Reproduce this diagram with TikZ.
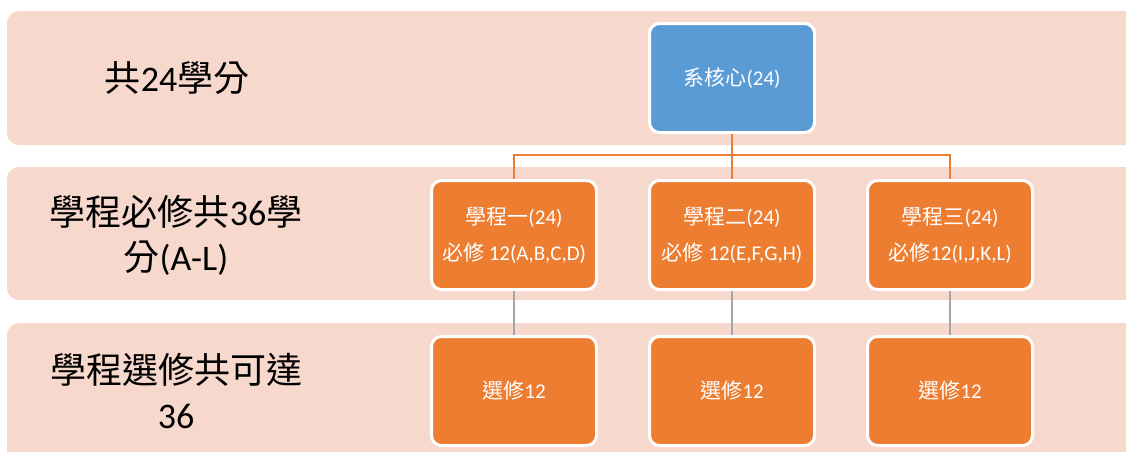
\documentclass[tikz,border=0pt]{standalone}
\usepackage{fontspec}
\setmainfont{Carlito}
\newfontfamily\cjk{Noto Sans CJK TC}
\definecolor{bandc}{HTML}{F7D8CD}
\definecolor{bluec}{HTML}{5B9BD5}
\definecolor{orangec}{HTML}{ED7D31}
\definecolor{grayc}{HTML}{A5A5A5}
\tikzset{
  bandshape/.style={fill=bandc, rounded corners=12pt},
  rowlabel/.style={text=black, align=center, font=\fontsize{36}{45}\selectfont},
  boxbase/.style={draw=white, line width=3pt, rounded corners=10pt, minimum width=165pt, minimum height=109pt, text=white, align=center, font=\fontsize{21}{36}\selectfont, inner sep=0pt},
  corebox/.style={boxbase, fill=bluec},
  progbox/.style={boxbase, fill=orangec},
  orangeline/.style={draw=orangec, line width=2pt},
  grayline/.style={draw=grayc, line width=2pt}
}
\begin{document}
\begin{tikzpicture}[x=1pt,y=-1pt]
\useasboundingbox (0,0) rectangle (1126,451);
\clip (0,0) rectangle (1126,451);
\fill[bandshape] (7,11) rectangle (1160,145);
\fill[bandshape] (7,167) rectangle (1160,300);
\fill[bandshape] (7,323) rectangle (1160,480);

\node[rowlabel] (l1) at (177,78) {{\cjk 共}24{\cjk 學分}};
\node[rowlabel] (l2) at (176,235) {{\cjk 學程必修共}36{\cjk 學}\\{\cjk 分}(A-L)};
\node[rowlabel] (l3) at (176,391) {{\cjk 學程選修共可達}\\36};

\node[corebox] (core) at (732,78) {{\cjk 系核心}(24)};
\node[progbox] (p1) at (514,235) {{\cjk 學程一}(24)\\{\cjk 必修} 12(A,B,C,D)};
\node[progbox] (p2) at (732,235) {{\cjk 學程二}(24)\\{\cjk 必修} 12(E,F,G,H)};
\node[progbox] (p3) at (950,235) {{\cjk 學程三}(24)\\{\cjk 必修}12(I,J,K,L)};
\node[progbox] (e1) at (514,391) {{\cjk 選修}12};
\node[progbox] (e2) at (732,391) {{\cjk 選修}12};
\node[progbox] (e3) at (950,391) {{\cjk 選修}12};

\coordinate (hub) at (732,155);
\draw[orangeline] (core.south) -- (hub);
\draw[orangeline] (hub) -| (p1.north);
\draw[orangeline] (hub) -- (p2.north);
\draw[orangeline] (hub) -| (p3.north);
\draw[grayline] (p1.south) -- (e1.north);
\draw[grayline] (p2.south) -- (e2.north);
\draw[grayline] (p3.south) -- (e3.north);
\end{tikzpicture}
\end{document}
